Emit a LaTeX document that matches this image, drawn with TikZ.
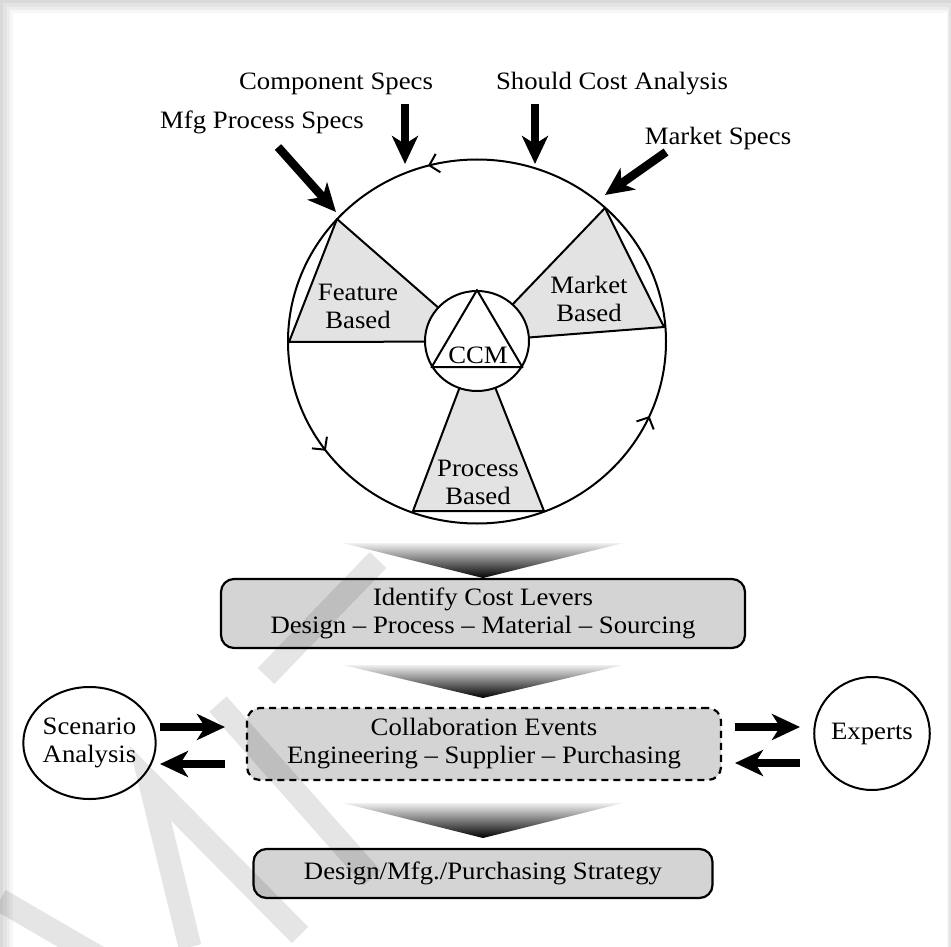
\documentclass[tikz,border=0pt]{standalone}
\usepackage{fontspec}
\setmainfont{Liberation Serif}[FakeStretch=1.07]
\usetikzlibrary{arrows.meta,decorations.markings,calc,shapes.geometric}

\newcommand\diagfont{\fontsize{25pt}{28pt}\selectfont}
\definecolor{sectorgray}{gray}{0.89}
\definecolor{boxgray}{gray}{0.83}

\begin{document}
\begin{tikzpicture}[x=1pt,y=-1pt,
  lbl/.style={font=\diagfont, inner sep=0pt, align=center},
  sector/.style={fill=sectorgray, draw=black, line width=2pt, line join=round},
  box/.style={draw=black, line width=2.2pt, fill=boxgray, rounded corners=13pt,
              align=center, font=\diagfont, inner sep=0pt},
  dashedbox/.style={box, dash pattern=on 7pt off 5pt},
  bubble/.style={draw=black, line width=2pt, ellipse, fill=white, inner sep=0pt,
                 align=center, font=\diagfont},
  flow/.style={line width=8.5pt, -{Stealth[length=28pt,width=26pt,inset=8pt]}},
  funnel/.style={top color=gray!12, bottom color=black, draw=none},
  stamp/.style={draw=black, draw opacity=0.1, line width=23pt, line cap=butt, line join=miter},
]
\useasboundingbox (0,0) rectangle (951,947);

% page with a soft shadow along the top and left edges
\fill[gray!30] (0,0) rectangle (951,947);
\fill[gray!22] (3,3) rectangle (951,947);
\fill[gray!14] (7,7) rectangle (949,947);
\fill[gray!6]  (10,10) rectangle (948,947);
\fill[white]   (13,13) rectangle (947,947);

% ---------------- cost-model wheel ----------------
\coordinate (hub) at (477,341.5);
\draw[line width=2pt, postaction={decorate},
  decoration={markings,
    mark=at position 0.066 with {\arrowreversed{Straight Barb[length=9pt,width=19pt,line width=2pt]}},
    mark=at position 0.399 with {\arrowreversed{Straight Barb[length=9pt,width=19pt,line width=2pt]}},
    mark=at position 0.7075 with {\arrowreversed{Straight Barb[length=9pt,width=19pt,line width=2pt]}}}]
  (hub) ellipse [x radius=189, y radius=182];

% three sectors pointing at the hub
\filldraw[sector] (337,219) -- (289,342) -- (hub) -- cycle;
\filldraw[sector] (605,208) -- (664,327) -- (hub) -- cycle;
\filldraw[sector] (413,511) -- (544,511) -- (hub) -- cycle;

% hub with the CCM triangle
\node[draw=black, line width=2pt, ellipse, fill=white, minimum width=104pt,
      minimum height=100pt, inner sep=0pt] (ccm) at (477,341) {};
\draw[line width=2pt, line join=round] (ccm.north) -- (ccm.210) -- (ccm.330) -- cycle;
\node[lbl] (ccmtext) at (478,355) {CCM};

\node[lbl] (feat) at (358,306) {Feature\\Based};
\node[lbl] (mark) at (589,299) {Market\\Based};
\node[lbl] (proc) at (478,482) {Process\\Based};

% ---------------- inputs to the wheel ----------------
\node[lbl] (comp)   at (336,84)  {Component Specs};
\node[lbl] (should) at (612,84)  {Should Cost Analysis};
\node[lbl] (mfg)    at (262,122) {Mfg Process Specs};
\node[lbl] (mkts)   at (718,138) {Market Specs};

\coordinate (compA) at (405,104);   \coordinate (compB) at (405,164);
\coordinate (shouldA) at (535,104); \coordinate (shouldB) at (535,164);
\coordinate (mfgA) at (278,147);    \coordinate (mfgB) at (336,212);
\coordinate (mktsA) at (666,152);   \coordinate (mktsB) at (605,195);
\draw[flow] (compA) -- (compB);
\draw[flow] (shouldA) -- (shouldB);
\draw[flow] (mfgA) -- (mfgB);
\draw[flow] (mktsA) -- (mktsB);

% ---------------- funnels and process boxes ----------------
\shade[funnel] (343,543) -- (623,543) -- (483,578) -- cycle;
\node[box, minimum width=524pt, minimum height=69pt] (levers) at (483,613.5)
  {Identify Cost Levers\\Design – Process – Material – Sourcing};

\shade[funnel] (343,665) -- (623,665) -- (483,698) -- cycle;
\node[dashedbox, minimum width=474pt, minimum height=72pt] (collab) at (484,744)
  {Collaboration Events\\Engineering – Supplier – Purchasing};

\shade[funnel] (343,803) -- (623,803) -- (483,838) -- cycle;
\node[box, minimum width=459pt, minimum height=49pt] (strat) at (483,873.5)
  {Design/Mfg./Purchasing Strategy};

% ---------------- side partners ----------------
\node[bubble, minimum width=113pt, minimum height=112pt] (scen) at (89.5,743)
  {Scenario\\Analysis};
\node[bubble, minimum width=112pt, minimum height=113pt] (expt) at (872,733.5)
  {Experts};

\coordinate (sOut) at (160,727); \coordinate (sIn) at (225,727);
\coordinate (sBackA) at (225,764); \coordinate (sBackB) at (160,764);
\draw[flow] (sOut) -- (sIn);
\draw[flow] (sBackA) -- (sBackB);

\coordinate (eOut) at (735,727); \coordinate (eIn) at (800,727);
\coordinate (eBackA) at (800,763); \coordinate (eBackB) at (735,763);
\draw[flow] (eOut) -- (eIn);
\draw[flow] (eBackA) -- (eBackB);

% ---------------- faint stamp strokes over the lower left ----------------
\draw[stamp] (378,560) -- (266,676);
\draw[stamp] (218,704) -- (372,878);
\draw[stamp] (190,947) -- (150,783) -- (300,935);
\draw[stamp] (0,900) -- (100,958);

\end{tikzpicture}
\end{document}
